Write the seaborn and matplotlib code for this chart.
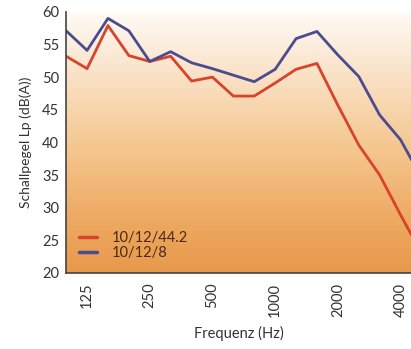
import numpy as np
import pandas as pd
import matplotlib
matplotlib.use("Agg")
import matplotlib.pyplot as plt
import seaborn as sns
from matplotlib.colors import LinearSegmentedColormap

sns.set_theme(style="white")
plt.rcParams["font.family"] = ["Lato", "DejaVu Sans"]

# Terzbänder (Hz)
frequenzen = [100, 125, 160, 200, 250, 315, 400, 500, 630, 800,
              1000, 1250, 1600, 2000, 2500, 3150, 4000, 5000]
pegel_44 = [53.2, 51.3, 57.9, 53.3, 52.4, 53.2, 49.4, 50.0, 47.1, 47.1,
            49.1, 51.2, 52.1, 45.7, 39.6, 35.0, 28.9, 23.0]
pegel_8 = [57.1, 54.1, 59.0, 57.1, 52.4, 53.9, 52.2, 51.3, 50.3, 49.3,
           51.2, 55.9, 57.0, 53.4, 50.1, 44.2, 40.4, 34.6]
beschriftung = ["125", "250", "500", "1000", "2000", "4000"]

df = pd.DataFrame({
    "pos": list(range(len(frequenzen))) * 2,
    "pegel": pegel_44 + pegel_8,
    "serie": ["10/12/44.2"] * len(frequenzen) + ["10/12/8"] * len(frequenzen),
})

fig = plt.figure(figsize=(4.11, 3.49), dpi=100)
ax = fig.add_axes([0.161, 0.218, 0.839, 0.748])

# Hintergrund-Verlauf orange (unten) -> weiß (oben)
verlauf = LinearSegmentedColormap.from_list(
    "verlauf", [(0.0, "#e7994c"), (0.22, "#eeab64"), (0.5, "#f5c994"),
                (0.8, "#fbe6cf"), (1.0, "#fffbf7")])
ax.imshow(np.linspace(0, 1, 256).reshape(-1, 1), cmap=verlauf, origin="lower",
          aspect="auto", extent=[0, 16.5, 20, 60], zorder=0)

sns.lineplot(data=df, x="pos", y="pegel", hue="serie",
             palette={"10/12/44.2": "#d8432b", "10/12/8": "#4b4b8f"},
             linewidth=2.0, ax=ax, zorder=2)

ax.set_yticks(range(20, 61, 5))
ax.set_xticks(range(len(frequenzen)), minor=True)
ax.set_xticks([1, 4, 7, 10, 13, 16])
ax.set_xticklabels(beschriftung, rotation=90)
# Grenzen erst nach den Ticks setzen
ax.set_xlim(0, 16.5)
ax.set_ylim(20, 60)
ax.tick_params(axis="both", which="both", direction="out", length=4,
               width=1, color="#444444", labelsize=10.5, labelcolor="#333333")
ax.tick_params(axis="y", pad=1)
ax.tick_params(axis="x", pad=3)

for s in ["top", "right"]:
    ax.spines[s].set_visible(False)
for s in ["left", "bottom"]:
    ax.spines[s].set_color("#444444")
    ax.spines[s].set_linewidth(1.2)

ax.set_xlabel("Frequenz (Hz)", fontsize=10.5, color="#333333", labelpad=7)
ax.set_ylabel("Schallpegel Lp (dB(A))", fontsize=10, color="#333333", labelpad=7)

leg = ax.legend(loc="lower left", frameon=False, fontsize=10.5, handlelength=1.2,
                borderaxespad=0.4, borderpad=0.5, labelspacing=0.05, handletextpad=1.0)
for t in leg.get_texts():
    t.set_color("#4a2a10")
for h in leg.get_lines():
    h.set_linewidth(2.5)

fig.savefig("out.png", dpi=100)
